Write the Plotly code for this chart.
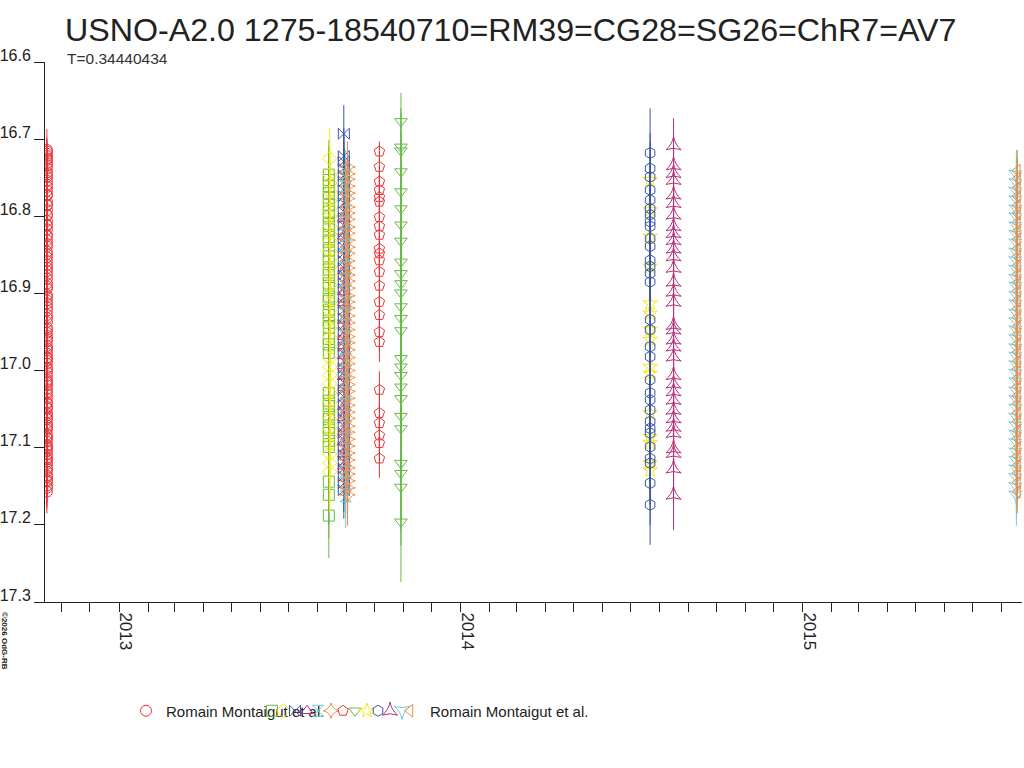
import plotly.graph_objects as go

# Light curve of USNO-A2.0 1275-18540710, one column per observing night.
title = "USNO-A2.0 1275-18540710=RM39=CG28=SG26=ChR7=AV7"
subtitle = "T=0.34440434"

observers = ["Romain Montaigut et al."] + [""] * 12 + ["Romain Montaigut et al."]
nights = ["2012-10-16", "2013-08-13", "2013-08-14", "2013-08-29", "2013-08-29",
          "2013-08-31", "2013-09-02", "2013-10-06", "2013-10-29", "2014-07-22",
          "2014-07-22", "2014-08-16", "2015-08-17", "2015-08-18"]
colors = ["#ee3338", "#66bb44", "#f5e813", "#3a55a5", "#b8317a", "#6ccbe0", "#f58a3a",
          "#ee3338", "#66bb44", "#f5e813", "#3a55a5", "#b8317a", "#6ccbe0", "#f58a3a"]
symbols = ["circle-open", "square-open", "diamond-open", "bowtie-open",
           "triangle-up-open", "hourglass-open", "star-diamond-open", "pentagon-open",
           "triangle-down-open", "star-open", "hexagon-open", "star-triangle-up-open",
           "star-triangle-down-open", "triangle-left-open"]

mag1 = [16.962, 16.978, 16.991, 17.012, 17.024, 17.041, 17.055, 17.068, 17.083, 17.097,
        17.104, 17.118, 17.131, 17.142, 17.157, 17.149, 17.136, 17.121, 17.109, 17.092,
        17.077, 17.063, 17.047, 17.031, 17.016, 17.002, 16.987, 16.971, 16.955, 16.944,
        16.928, 16.913, 16.902, 16.887, 16.871, 16.858, 16.846, 16.831, 16.817, 16.806,
        16.792, 16.781, 16.767, 16.754, 16.743, 16.731, 16.722, 16.714, 16.719, 16.727,
        16.738, 16.749, 16.762, 16.773, 16.786, 16.798, 16.811, 16.824, 16.836, 16.849,
        16.863, 16.876, 16.891, 16.905, 16.918, 16.932, 16.947, 16.959, 16.974, 16.983,
        16.996, 17.007, 17.019, 17.036, 17.049, 17.061, 17.074, 17.088, 17.101, 17.113,
        17.126, 17.138, 17.152, 17.144, 17.128, 17.115, 17.099, 17.086, 17.071, 17.058,
        17.043, 17.028, 17.014, 16.998, 16.984, 16.968, 16.951, 16.937, 16.922, 16.909,
        16.894, 16.881, 16.867, 16.853, 16.839, 16.826, 16.812, 16.799, 16.785, 16.772,
        16.759, 16.746, 16.734, 16.725, 16.716]
err1 = [0.021, 0.022, 0.022, 0.023, 0.023, 0.024, 0.024, 0.025, 0.025, 0.026,
        0.026, 0.026, 0.027, 0.027, 0.028, 0.027, 0.027, 0.026, 0.026, 0.025,
        0.025, 0.024, 0.024, 0.023, 0.023, 0.023, 0.022, 0.022, 0.021, 0.021,
        0.021, 0.020, 0.020, 0.020, 0.020, 0.019, 0.019, 0.019, 0.019, 0.019,
        0.018, 0.018, 0.018, 0.018, 0.018, 0.018, 0.018, 0.027, 0.018, 0.018,
        0.018, 0.018, 0.018, 0.018, 0.019, 0.019, 0.019, 0.019, 0.019, 0.020,
        0.020, 0.020, 0.020, 0.021, 0.021, 0.021, 0.022, 0.022, 0.022, 0.023,
        0.023, 0.023, 0.023, 0.024, 0.024, 0.024, 0.025, 0.025, 0.025, 0.026,
        0.026, 0.026, 0.027, 0.026, 0.026, 0.026, 0.025, 0.025, 0.025, 0.024,
        0.024, 0.024, 0.023, 0.023, 0.023, 0.022, 0.022, 0.022, 0.021, 0.021,
        0.021, 0.020, 0.020, 0.020, 0.020, 0.019, 0.019, 0.019, 0.019, 0.019,
        0.018, 0.018, 0.018, 0.018, 0.018]

mag2 = [16.746, 16.753, 16.761, 16.770, 16.776, 16.785, 16.794, 16.800, 16.810, 16.817,
        16.827, 16.833, 16.844, 16.852, 16.859, 16.869, 16.876, 16.887, 16.893, 16.904,
        16.910, 16.921, 16.928, 16.938, 16.944, 16.959, 16.966, 16.977, 17.029, 17.039,
        17.046, 17.057, 17.063, 17.074, 17.081, 17.091, 17.099, 17.144, 17.161, 17.188]
err2 = [0.045, 0.044, 0.044, 0.045, 0.046, 0.045, 0.046, 0.047, 0.046, 0.047,
        0.047, 0.048, 0.048, 0.047, 0.048, 0.049, 0.048, 0.049, 0.049, 0.050,
        0.049, 0.050, 0.050, 0.051, 0.050, 0.051, 0.051, 0.052, 0.053, 0.053,
        0.054, 0.053, 0.054, 0.055, 0.054, 0.055, 0.055, 0.056, 0.056, 0.055]

mag3 = [16.725, 16.746, 16.757, 16.768, 16.780, 16.791, 16.800, 16.812, 16.823, 16.832,
        16.845, 16.856, 16.866, 16.877, 16.889, 16.899, 16.912, 16.922, 16.935, 16.945,
        16.957, 16.969, 16.984, 16.995, 17.006, 17.017, 17.029, 17.041, 17.052, 17.063,
        17.075, 17.086, 17.096, 17.108, 17.120, 17.131]
err3 = [0.040, 0.040, 0.041, 0.041, 0.041, 0.042, 0.042, 0.042, 0.043, 0.043,
        0.043, 0.044, 0.044, 0.044, 0.045, 0.045, 0.045, 0.046, 0.046, 0.046,
        0.047, 0.047, 0.047, 0.048, 0.048, 0.048, 0.049, 0.049, 0.049, 0.050,
        0.050, 0.050, 0.051, 0.051, 0.051, 0.052]

mag4 = [16.693, 16.722, 16.729, 16.738, 16.747, 16.755, 16.766, 16.774, 16.783, 16.794,
        16.802, 16.812, 16.821, 16.829, 16.840, 16.848, 16.858, 16.867, 16.876, 16.886,
        16.894, 16.905, 16.913, 16.922, 16.932, 16.941, 16.950, 16.960, 16.969, 16.978,
        16.988, 16.997, 17.006, 17.016, 17.025, 17.034, 17.044, 17.053, 17.062, 17.072,
        17.081, 17.090, 17.099, 17.109, 17.118, 17.127, 17.137, 17.146, 17.155]
err4 = [0.037, 0.036, 0.035, 0.035, 0.035, 0.035, 0.034, 0.034, 0.034, 0.034,
        0.034, 0.034, 0.033, 0.033, 0.033, 0.033, 0.033, 0.033, 0.033, 0.033,
        0.033, 0.033, 0.033, 0.033, 0.033, 0.033, 0.033, 0.034, 0.034, 0.034,
        0.034, 0.034, 0.034, 0.034, 0.034, 0.035, 0.035, 0.035, 0.035, 0.035,
        0.035, 0.035, 0.036, 0.036, 0.036, 0.036, 0.036, 0.037, 0.037]

mag5 = [16.803, 16.826, 16.871, 16.898, 16.912, 16.935, 16.956, 16.968, 16.981, 16.994,
        17.008, 17.022, 17.047, 17.061, 17.079, 17.093, 17.108, 17.124]
err5 = [0.035, 0.035, 0.036, 0.036, 0.036, 0.037, 0.037, 0.037, 0.038, 0.038,
        0.038, 0.039, 0.039, 0.039, 0.040, 0.040, 0.040, 0.041]

mag6 = [16.748, 16.761, 16.779, 16.793, 16.808, 16.824, 16.837, 16.853, 16.866, 16.882,
        16.897, 16.911, 16.927, 16.941, 16.956, 16.971, 16.985, 17.001, 17.015, 17.029,
        17.044, 17.059, 17.073, 17.087, 17.102, 17.117, 17.131, 17.146, 17.163]
err6 = [0.034, 0.034, 0.034, 0.035, 0.035, 0.035, 0.035, 0.036, 0.036, 0.036,
        0.036, 0.037, 0.037, 0.037, 0.037, 0.038, 0.038, 0.038, 0.038, 0.039,
        0.039, 0.039, 0.039, 0.040, 0.040, 0.040, 0.040, 0.041, 0.041]

mag7 = [16.736, 16.745, 16.752, 16.761, 16.770, 16.777, 16.788, 16.796, 16.804, 16.814,
        16.822, 16.831, 16.840, 16.848, 16.858, 16.867, 16.876, 16.884, 16.893, 16.903,
        16.911, 16.919, 16.929, 16.938, 16.947, 16.956, 16.964, 16.973, 16.983, 16.991,
        17.000, 17.009, 17.018, 17.027, 17.036, 17.045, 17.054, 17.062, 17.072, 17.080,
        17.089, 17.098, 17.107, 17.116, 17.126, 17.134, 17.143, 17.152, 17.161]
err7 = [0.033, 0.033, 0.033, 0.033, 0.033, 0.033, 0.034, 0.034, 0.034, 0.034,
        0.034, 0.034, 0.034, 0.034, 0.035, 0.035, 0.035, 0.035, 0.035, 0.035,
        0.035, 0.035, 0.036, 0.036, 0.036, 0.036, 0.036, 0.036, 0.036, 0.037,
        0.037, 0.037, 0.037, 0.037, 0.037, 0.037, 0.038, 0.038, 0.038, 0.038,
        0.038, 0.038, 0.038, 0.039, 0.039, 0.039, 0.039, 0.039, 0.040]

mag8 = [16.716, 16.736, 16.755, 16.766, 16.775, 16.781, 16.801, 16.813, 16.824, 16.842,
        16.848, 16.857, 16.872, 16.890, 16.911, 16.928, 16.950, 16.963, 17.025, 17.055,
        17.068, 17.084, 17.094, 17.114]
err8 = [0.013, 0.020, 0.021, 0.021, 0.022, 0.022, 0.022, 0.023, 0.023, 0.023,
        0.023, 0.024, 0.024, 0.024, 0.025, 0.025, 0.026, 0.026, 0.024, 0.025,
        0.025, 0.026, 0.026, 0.025]

mag9 = [16.677, 16.710, 16.715, 16.742, 16.768, 16.790, 16.811, 16.832, 16.859, 16.874,
        16.887, 16.899, 16.917, 16.932, 16.948, 16.984, 16.995, 17.006, 17.021, 17.036,
        17.059, 17.075, 17.120, 17.133, 17.151, 17.196]
err9 = [0.037, 0.050, 0.050, 0.052, 0.053, 0.054, 0.055, 0.056, 0.057, 0.058,
        0.059, 0.060, 0.061, 0.062, 0.063, 0.065, 0.066, 0.067, 0.068, 0.069,
        0.070, 0.071, 0.074, 0.075, 0.076, 0.078]

mag10 = [16.753, 16.792, 16.826, 16.865, 16.913, 16.926, 16.947, 16.960, 16.995, 17.004,
         17.055, 17.086, 17.094, 17.120, 17.129]
err10 = [0.040, 0.041, 0.042, 0.043, 0.044, 0.044, 0.045, 0.045, 0.046, 0.046,
         0.047, 0.048, 0.048, 0.049, 0.049]

mag11 = [16.718, 16.738, 16.749, 16.766, 16.779, 16.790, 16.798, 16.807, 16.813, 16.829,
         16.839, 16.857, 16.865, 16.874, 16.885, 16.934, 16.947, 16.969, 16.982, 17.012,
         17.029, 17.038, 17.051, 17.066, 17.075, 17.081, 17.099, 17.114, 17.120, 17.146,
         17.174]
err11 = [0.058, 0.046, 0.046, 0.047, 0.047, 0.047, 0.048, 0.048, 0.048, 0.049,
         0.049, 0.049, 0.050, 0.050, 0.050, 0.051, 0.051, 0.051, 0.052, 0.052,
         0.052, 0.052, 0.053, 0.053, 0.053, 0.053, 0.054, 0.054, 0.054, 0.054,
         0.052]

mag12 = [16.708, 16.734, 16.744, 16.753, 16.772, 16.783, 16.798, 16.813, 16.822, 16.831,
         16.842, 16.852, 16.867, 16.885, 16.898, 16.911, 16.941, 16.947, 16.960, 16.969,
         16.982, 17.006, 17.017, 17.027, 17.038, 17.051, 17.062, 17.073, 17.081, 17.101,
         17.107, 17.127, 17.161]
err12 = [0.035, 0.038, 0.038, 0.039, 0.039, 0.039, 0.040, 0.040, 0.040, 0.041,
         0.041, 0.041, 0.042, 0.042, 0.042, 0.042, 0.043, 0.043, 0.043, 0.043,
         0.044, 0.044, 0.044, 0.044, 0.045, 0.045, 0.045, 0.045, 0.046, 0.046,
         0.046, 0.046, 0.046]

mag13 = [16.746, 16.757, 16.768, 16.779, 16.791, 16.801, 16.813, 16.824, 16.835, 16.847,
         16.858, 16.869, 16.881, 16.891, 16.903, 16.914, 16.926, 16.937, 16.948, 16.959,
         16.971, 16.982, 16.993, 17.004, 17.015, 17.027, 17.038, 17.049, 17.061, 17.072,
         17.083, 17.094, 17.106, 17.117, 17.128, 17.139, 17.151, 17.162]
err13 = [0.032, 0.032, 0.032, 0.032, 0.033, 0.033, 0.033, 0.033, 0.033, 0.034,
         0.034, 0.034, 0.034, 0.034, 0.035, 0.035, 0.035, 0.035, 0.035, 0.036,
         0.036, 0.036, 0.036, 0.036, 0.037, 0.037, 0.037, 0.037, 0.037, 0.038,
         0.038, 0.038, 0.038, 0.038, 0.039, 0.039, 0.039, 0.039]

mag14 = [16.741, 16.751, 16.763, 16.774, 16.786, 16.796, 16.808, 16.819, 16.830, 16.842,
         16.852, 16.864, 16.875, 16.886, 16.897, 16.909, 16.920, 16.931, 16.943, 16.953,
         16.965, 16.976, 16.988, 16.998, 17.010, 17.021, 17.033, 17.043, 17.055, 17.066,
         17.078, 17.088, 17.100, 17.111, 17.123, 17.133, 17.145, 17.157]
err14 = [0.027, 0.027, 0.027, 0.028, 0.028, 0.028, 0.028, 0.028, 0.029, 0.029,
         0.029, 0.029, 0.029, 0.030, 0.030, 0.030, 0.030, 0.030, 0.031, 0.031,
         0.031, 0.031, 0.031, 0.032, 0.032, 0.032, 0.032, 0.032, 0.033, 0.033,
         0.033, 0.033, 0.033, 0.034, 0.034, 0.034, 0.034, 0.028]

mags = [mag1, mag2, mag3, mag4, mag5, mag6, mag7, mag8, mag9, mag10, mag11, mag12, mag13, mag14]
errs = [err1, err2, err3, err4, err5, err6, err7, err8, err9, err10, err11, err12, err13, err14]

# Legend swatch centres (px); the reference crams the entries together.
legend_px = [146, 272, 283.5, 295, 307, 318, 331, 343, 355, 367, 378, 390, 402, 410]

font = "Liberation Sans, Arial, sans-serif"
fig = go.Figure()

for i in range(len(mags)):
    lname = "legend" if i == 0 else f"legend{i + 1}"
    fig.add_trace(go.Scatter(
        x=[nights[i]] * len(mags[i]), y=mags[i], mode="markers",
        name=observers[i], legend=lname,
        marker=dict(symbol=symbols[i], size=11, color=colors[i], line=dict(width=1)),
        error_y=dict(type="data", array=errs[i], color=colors[i], thickness=1, width=0),
    ))
    fig.update_layout({lname: dict(
        orientation="h", xref="container", yref="container",
        x=(legend_px[i] - 20) / 1024, y=1 - 711 / 768, xanchor="left", yanchor="middle",
        bgcolor="rgba(0,0,0,0)", font=dict(size=15, color="#222"), itemwidth=30,
    )})

# plot area spans x 45..1022 and y 62..602 in the reference
fig.update_layout(
    width=1024, height=768,
    margin=dict(l=45, r=2, t=62, b=166, autoexpand=False),
    paper_bgcolor="white", plot_bgcolor="white",
    font=dict(family=font, color="#222"),
    title=dict(text=title, x=65 / 1024, xanchor="left", xref="container",
               y=1 - 30 / 768, yanchor="middle", yref="container",
               font=dict(size=32.2, color="#222")),
    showlegend=True,
)

fig.add_annotation(text=subtitle, xref="paper", yref="paper", x=(65 - 45) / 977,
                   y=(602 - 58) / 540, xanchor="left", yanchor="middle", showarrow=False,
                   font=dict(size=15.5, color="#333"))
fig.add_annotation(text="<b>©2026 OdG-RB</b>", xref="paper", yref="paper",
                   x=(5 - 45) / 977, y=(602 - 641) / 540,
                   textangle=90, xanchor="center", yanchor="middle", showarrow=False,
                   font=dict(size=8, color="#222"))

fig.update_xaxes(
    type="date", range=["2012-10-14", "2015-08-23"],
    tick0="2013-01-01", dtick="M12", tickformat="%Y", tickangle=90,
    ticks="outside", ticklen=9, tickcolor="#222", ticklabelshift=7, ticklabelstandoff=-3,
    tickfont=dict(size=17, color="#222"), automargin=False,
    minor=dict(dtick="M1", ticks="outside", ticklen=9, tickcolor="#222", showgrid=False),
    showline=True, linecolor="#222", showgrid=False, zeroline=False,
)
fig.update_yaxes(
    range=[17.3, 16.6], tickvals=[16.6, 16.7, 16.8, 16.9, 17.0, 17.1, 17.2, 17.3],
    tickformat=".1f", ticks="outside", ticklen=10, tickcolor="#222", ticklabelshift=7,
    tickfont=dict(size=16, color="#222"), automargin=False,
    showline=True, linecolor="#222", showgrid=False, zeroline=False,
)

# the page's default 8px body margin would push the figure off the window
fig.write_html("out.html", config={"displayModeBar": False},
               post_script="document.body.style.margin='0';document.body.style.overflow='hidden';")
